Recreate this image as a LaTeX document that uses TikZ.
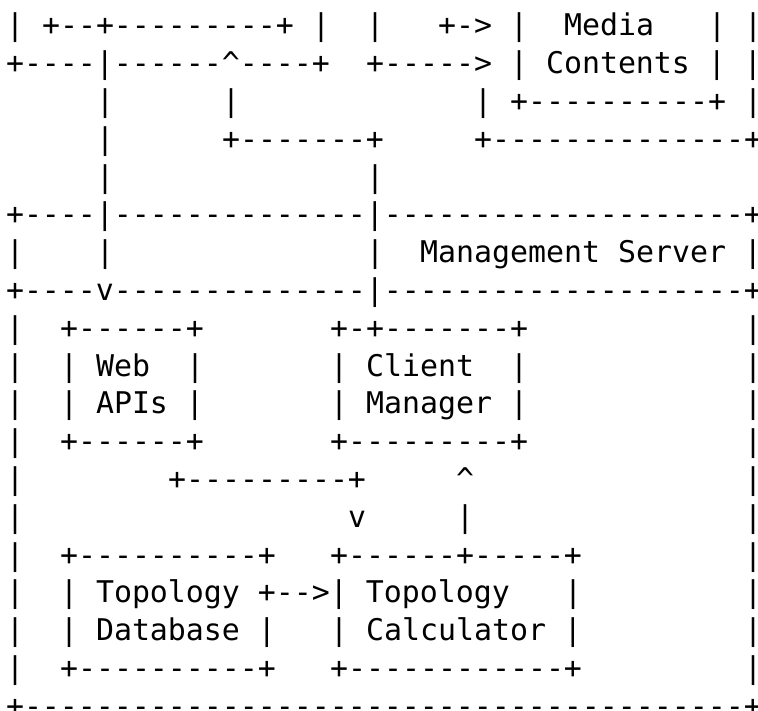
\documentclass[tikz,border=0pt]{standalone}
\usepackage{fontspec}
\setmonofont{DejaVu Sans Mono}
\usetikzlibrary{calc}

% character grid: 18pt per column, 37.8pt per row
\tikzset{
  glyphs/.style={anchor=base west, inner sep=0pt, outer sep=0pt,
    font=\ttfamily\fontsize{29.9pt}{36pt}\selectfont, text=black}
}
\newcommand\txtat[4]{\node[glyphs] (#1) at ({6pt+#2*18pt},{-35.8pt-(#3-1)*37.8pt}) {#4};}

\begin{document}
\begin{tikzpicture}
\useasboundingbox (0,0) rectangle (758pt,-710pt);

% row 1
\txtat{r1a}{0}{1}{|}
\txtat{r1b}{2}{1}{+--+---------+}
\txtat{r1c}{17}{1}{|}
\txtat{r1d}{20}{1}{|}
\txtat{r1e}{24}{1}{+-> |}
\txtat{media}{31}{1}{Media}
\txtat{r1f}{39}{1}{| |}
% row 2
\txtat{r2a}{0}{2}{+----|------\textasciicircum----+}
\txtat{r2b}{20}{2}{+-----> | Contents | |}
% row 3
\txtat{r3a}{5}{3}{|}
\txtat{r3b}{12}{3}{|}
\txtat{r3c}{26}{3}{| +----------+ |}
% row 4
\txtat{r4a}{5}{4}{|}
\txtat{r4b}{12}{4}{+-------+}
\txtat{r4c}{26}{4}{+--------------+}
% row 5
\txtat{r5a}{5}{5}{|}
\txtat{r5b}{20}{5}{|}
% row 6
\txtat{r6a}{0}{6}{+----|--------------|--------------------+}
% row 7
\txtat{r7a}{0}{7}{|}
\txtat{r7b}{5}{7}{|}
\txtat{r7c}{20}{7}{|}
\txtat{mgmt}{23}{7}{Management Server |}
% row 8
\txtat{r8a}{0}{8}{+----v--------------|--------------------+}
% row 9
\txtat{r9a}{0}{9}{|}
\txtat{r9b}{3}{9}{+------+}
\txtat{r9c}{18}{9}{+-+-------+}
\txtat{r9d}{41}{9}{|}
% row 10
\txtat{r10a}{0}{10}{|}
\txtat{web}{3}{10}{| Web}
\txtat{r10b}{10}{10}{|}
\txtat{client}{18}{10}{| Client}
\txtat{r10c}{28}{10}{|}
\txtat{r10d}{41}{10}{|}
% row 11
\txtat{r11a}{0}{11}{|}
\txtat{apis}{3}{11}{| APIs |}
\txtat{manager}{18}{11}{| Manager |}
\txtat{r11b}{41}{11}{|}
% row 12
\txtat{r12a}{0}{12}{|}
\txtat{r12b}{3}{12}{+------+}
\txtat{r12c}{18}{12}{+---------+}
\txtat{r12d}{41}{12}{|}
% row 13
\txtat{r13a}{0}{13}{|}
\txtat{r13b}{9}{13}{+---------+}
\txtat{r13c}{25}{13}{\textasciicircum}
\txtat{r13d}{41}{13}{|}
% row 14
\txtat{r14a}{0}{14}{|}
\txtat{r14b}{19}{14}{v}
\txtat{r14c}{25}{14}{|}
\txtat{r14d}{41}{14}{|}
% row 15
\txtat{r15a}{0}{15}{|}
\txtat{r15b}{3}{15}{+----------+}
\txtat{r15c}{18}{15}{+------+-----+}
\txtat{r15d}{41}{15}{|}
% row 16
\txtat{r16a}{0}{16}{|}
\txtat{topo}{3}{16}{| Topology +-->| Topology}
\txtat{r16b}{31}{16}{|}
\txtat{r16c}{41}{16}{|}
% row 17
\txtat{r17a}{0}{17}{|}
\txtat{database}{3}{17}{| Database |}
\txtat{calc}{18}{17}{| Calculator |}
\txtat{r17b}{41}{17}{|}
% row 18
\txtat{r18a}{0}{18}{|}
\txtat{r18b}{3}{18}{+----------+}
\txtat{r18c}{18}{18}{+------------+}
\txtat{r18d}{41}{18}{|}
% row 19
\txtat{r19a}{0}{19}{+----------------------------------------+}
\end{tikzpicture}
\end{document}
